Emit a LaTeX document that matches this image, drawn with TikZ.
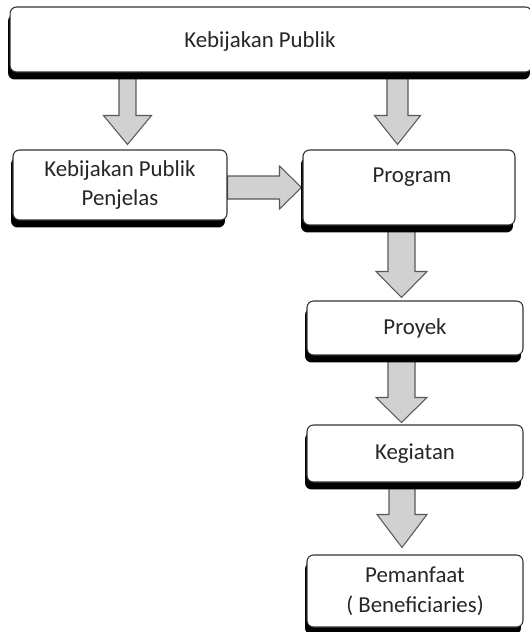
\documentclass[tikz,border=0pt]{standalone}
\usepackage{fontspec}
\setmainfont{Carlito}
\usepackage{tikz}
\usetikzlibrary{calc,shadows,backgrounds}

\tikzset{
  kotak/.style={draw=black!80, line width=0.6pt, fill=white, rounded corners=0.13cm,
    drop shadow={shadow xshift=-0.04cm, shadow yshift=-0.15cm, fill=black, opacity=1},
    align=center, inner sep=0pt},
  panah/.style={draw=black!65, line width=0.6pt, fill=black!18},
  turun/.style n args={3}{to path={let \p1=(\tikztostart), \p2=(\tikztotarget) in
    (\x2-#1,\y1) -- (\x2-#1,\y2+#3) -- (\x2-#2,\y2+#3) -- (\x2,\y2)
    -- (\x2+#2,\y2+#3) -- (\x2+#1,\y2+#3) -- (\x2+#1,\y1) -- cycle}},
  kanan/.style n args={3}{to path={let \p1=(\tikztostart), \p2=(\tikztotarget) in
    (\x1,\y2+#1) -- (\x2-#3,\y2+#1) -- (\x2-#3,\y2+#2) -- (\x2,\y2)
    -- (\x2-#3,\y2-#2) -- (\x2-#3,\y2-#1) -- (\x1,\y2-#1) -- cycle}}
}

\begin{document}
\begin{tikzpicture}[x=0.02cm, y=-0.02cm, font=\fontsize{13}{17}\selectfont, text=black!85]
              \useasboundingbox (0,0) rectangle (529,632);

              % Kotak
              \node[kotak, minimum width=10.44cm, minimum height=1.3cm,
                    label={[name=kplab, xshift=-0.22cm, yshift=-0.05cm]center:Kebijakan Publik}] (kp) at (271, 39.5) {};
              \node[kotak, minimum width=4.28cm, minimum height=1.4cm] (kpp) at (120, 185) {Kebijakan Publik\\Penjelas};
              \node[kotak, minimum width=4.24cm, minimum height=1.5cm,
                    label={[name=prlab, xshift=0.06cm, yshift=0.21cm]center:Program}] (prog) at (409, 187.5) {};
              \node[kotak, minimum width=4.32cm, minimum height=1.08cm] (proy) at (415, 328) {Proyek};
              \node[kotak, minimum width=4.32cm, minimum height=1.14cm] (keg) at (415, 453.5) {Kegiatan};
              \node[kotak, minimum width=4.32cm, minimum height=1.44cm] (pem) at (415, 591) {Pemanfaat\\( Beneficiaries)};

              % Panah
              \begin{scope}[on background layer]
              \draw[panah] (kp.south) to[turun={0.17cm}{0.48cm}{0.58cm}] ([xshift=0.15cm, yshift=0.1cm]kpp.north);
              \draw[panah] (kp.south) to[turun={0.21cm}{0.46cm}{0.58cm}] ([xshift=-0.23cm, yshift=0.1cm]prog.north);
              \draw[panah] (kpp.east) to[kanan={0.23cm}{0.43cm}{0.44cm}] ([xshift=-0.02cm]prog.west);
              \draw[panah] (prog.south) to[turun={0.27cm}{0.51cm}{0.52cm}] ([xshift=-0.27cm, yshift=0.06cm]proy.north);
              \draw[panah] (proy.south) to[turun={0.27cm}{0.51cm}{0.5cm}] ([xshift=-0.27cm, yshift=0.04cm]keg.north);
              \draw[panah] (keg.south) to[turun={0.26cm}{0.5cm}{0.66cm}] ([xshift=-0.26cm, yshift=0.14cm]pem.north);
              \end{scope}
\end{tikzpicture}
\end{document}
